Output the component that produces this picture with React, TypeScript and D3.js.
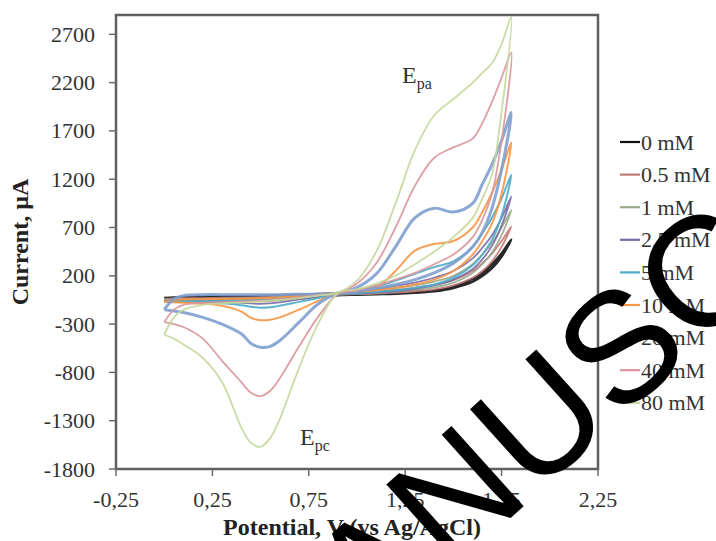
import React from "react";
import * as d3 from "d3";

const W = 716;
const H = 541;
const M = { left: 116, top: 15, right: 598, bottom: 469 };

// potential grids (V) for forward (anodic) and reverse (cathodic) scans
const V_FWD = [0, 0.05, 0.1, 0.2, 0.3, 0.4, 0.5, 0.6, 0.7, 0.8, 0.9, 1.0, 1.1, 1.2, 1.3, 1.4, 1.5, 1.6, 1.65, 1.7, 1.75, 1.8];
const V_REV = [1.8, 1.75, 1.7, 1.65, 1.6, 1.5, 1.4, 1.3, 1.2, 1.1, 1.0, 0.9, 0.8, 0.7, 0.6, 0.55, 0.5, 0.45, 0.4, 0.3, 0.2, 0.1, 0.05, 0];

const SERIES_NAMES = ["0 mM", "0.5 mM", "1 mM", "2.5 mM", "5 mM", "10 mM", "20 mM", "40 mM", "80 mM"];
const SERIES_COLORS = ["#111111", "#c47a78", "#9aa98a", "#7b6aa6", "#4bacc6", "#f79646", "#7f9fcf", "#d9959b", "#c4d79b"];
const SERIES_WIDTHS = [2.6, 1.8, 1.8, 1.8, 2, 2, 3, 1.8, 1.8];

// currents (µA), forward scan
const I_FWD_0 = [-30, -25, -20, -15, -12, -10, -8, -5, 2, 10, 18, 22, 27, 32, 38, 45, 90, 170, 230, 320, 430, 575];
const I_FWD_05 = [-40, -35, -32, -30, -28, -26, -22, -15, -5, 8, 22, 32, 42, 55, 75, 105, 155, 250, 330, 430, 560, 710];
const I_FWD_1 = [-45, -42, -40, -38, -36, -34, -30, -22, -10, 5, 22, 38, 55, 75, 100, 140, 200, 320, 420, 540, 700, 880];
const I_FWD_25 = [-60, -55, -52, -50, -48, -45, -40, -30, -15, 5, 22, 45, 65, 95, 130, 180, 250, 380, 490, 620, 800, 1020];
const I_FWD_5 = [-70, -62, -60, -58, -56, -52, -45, -35, -18, 5, 25, 50, 90, 150, 220, 290, 350, 500, 640, 800, 1000, 1245];
const I_FWD_10 = [-70, -50, -45, -42, -40, -38, -33, -25, -10, 8, 25, 40, 80, 250, 460, 530, 560, 700, 860, 1060, 1300, 1580];
const I_FWD_20 = [-150, -40, -5, 5, 5, 5, 5, 5, 8, 12, 20, 80, 220, 500, 800, 900, 860, 950, 1150, 1350, 1600, 1890];
const I_FWD_40 = [-280, -150, -100, -80, -72, -66, -58, -45, -25, 0, 20, 120, 330, 700, 1130, 1420, 1530, 1620, 1780, 2000, 2250, 2510];
const I_FWD_80 = [-410, -230, -150, -100, -85, -75, -65, -50, -30, -5, 25, 150, 450, 950, 1500, 1860, 2030, 2200, 2300, 2400, 2600, 2880];

// currents (µA), reverse scan
const I_REV_0 = [575, 400, 280, 200, 140, 75, 40, 25, 15, 10, 5, 0, -10, -20, -28, -30, -33, -34, -35, -35, -34, -33, -32, -30];
const I_REV_05 = [710, 500, 350, 250, 180, 100, 60, 40, 25, 15, 10, 5, -12, -28, -42, -46, -48, -48, -47, -45, -43, -42, -41, -40];
const I_REV_1 = [880, 620, 440, 320, 230, 130, 80, 55, 35, 20, 12, 5, -15, -35, -55, -62, -65, -63, -60, -55, -50, -48, -46, -45];
const I_REV_25 = [1020, 720, 510, 370, 270, 160, 100, 65, 40, 25, 15, 5, -20, -45, -75, -85, -90, -85, -80, -70, -62, -60, -60, -60];
const I_REV_5 = [1245, 820, 570, 420, 310, 180, 110, 75, 50, 35, 22, 8, -30, -70, -110, -125, -130, -120, -105, -85, -75, -72, -70, -70];
const I_REV_10 = [1580, 1050, 740, 560, 420, 250, 160, 110, 75, 50, 35, 15, -60, -150, -230, -255, -260, -235, -170, -110, -90, -80, -75, -70];
const I_REV_20 = [1890, 1300, 900, 650, 500, 330, 230, 160, 110, 70, 40, 15, -90, -280, -470, -530, -540, -500, -400, -300, -230, -180, -165, -150];
const I_REV_40 = [2510, 1600, 1050, 780, 600, 420, 320, 230, 160, 100, 50, 10, -220, -530, -860, -990, -1045, -1010, -900, -680, -450, -330, -300, -280];
const I_REV_80 = [2880, 1900, 1250, 1000, 800, 600, 450, 320, 200, 120, 60, 20, -290, -750, -1280, -1480, -1570, -1530, -1370, -900, -650, -510, -450, -410];

const FWD = [I_FWD_0, I_FWD_05, I_FWD_1, I_FWD_25, I_FWD_5, I_FWD_10, I_FWD_20, I_FWD_40, I_FWD_80];
const REV = [I_REV_0, I_REV_05, I_REV_1, I_REV_25, I_REV_5, I_REV_10, I_REV_20, I_REV_40, I_REV_80];

const X_TICKS = [-0.25, 0.25, 0.75, 1.25, 1.75, 2.25];
const X_TICK_LABELS = ["-0,25", "0,25", "0,75", "1,25", "1,75", "2,25"];
const Y_TICKS = [-1800, -1300, -800, -300, 200, 700, 1200, 1700, 2200, 2700];

const SERIF = "'Liberation Serif', 'Times New Roman', serif";

export default function App() {
  const x = d3.scaleLinear().domain([-0.25, 2.25]).range([M.left, M.right]);
  const y = d3.scaleLinear().domain([-1800, 2900]).range([M.bottom, M.top]);

  const line = d3
    .line<[number, number]>()
    .x((d) => x(d[0]))
    .y((d) => y(d[1]))
    .curve(d3.curveCatmullRom.alpha(0.5));

  const paths = SERIES_NAMES.map((name, i) => {
    const pts: [number, number][] = [];
    V_FWD.forEach((v, k) => pts.push([v, FWD[i][k]]));
    V_REV.forEach((v, k) => {
      if (k > 0) pts.push([v, REV[i][k]]);
    });
    return { name, d: line(pts) || "", color: SERIES_COLORS[i], w: SERIES_WIDTHS[i] };
  });

  const legendY0 = 142;
  const legendStep = 32.6;

  return (
    <svg
      width={W}
      height={H}
      style={{ position: "absolute", left: 0, top: 0, background: "#fff" }}
      fontFamily={SERIF}
    >
      <rect x={0} y={0} width={W} height={H} fill="#fff" />
      <g>
        {paths.map((p) => (
          <path key={p.name} d={p.d} fill="none" stroke={p.color} strokeWidth={p.w} strokeLinejoin="round" opacity={0.9} />
        ))}
      </g>
      {/* frame */}
      <rect
        x={M.left}
        y={M.top}
        width={M.right - M.left}
        height={M.bottom - M.top}
        fill="none"
        stroke="#5f5f5f"
        strokeWidth={2.5}
      />
      {/* y ticks */}
      {Y_TICKS.map((t) => (
        <g key={"y" + t}>
          <line x1={M.left - 7} x2={M.left} y1={y(t)} y2={y(t)} stroke="#6a6a6a" strokeWidth={1.5} />
          <text x={95} y={y(t) + 7.5} textAnchor="end" fontSize={22} fill="#333">
            {t}
          </text>
        </g>
      ))}
      {/* x ticks */}
      {X_TICKS.map((t, i) => (
        <g key={"x" + t}>
          <line x1={x(t)} x2={x(t)} y1={M.bottom} y2={M.bottom + 7} stroke="#6a6a6a" strokeWidth={1.5} />
          <text x={x(t)} y={507} textAnchor="middle" fontSize={22} fill="#333">
            {X_TICK_LABELS[i]}
          </text>
        </g>
      ))}
      {/* axis titles */}
      <text x={352} y={535} textAnchor="middle" fontSize={24} fontWeight="bold" fill="#222">
        Potential, V (vs Ag/AgCl)
      </text>
      <text
        transform={`translate(28,242) rotate(-90)`}
        textAnchor="middle"
        fontSize={24}
        fontWeight="bold"
        fill="#222"
      >
        Current, µA
      </text>
      {/* annotations */}
      <text x={402} y={83} fontSize={24} fill="#333">
        E<tspan fontSize={16} dy={6}>pa</tspan>
      </text>
      <text x={300} y={445} fontSize={24} fill="#333">
        E<tspan fontSize={16} dy={6}>pc</tspan>
      </text>
      {/* legend */}
      {SERIES_NAMES.map((n, i) => {
        const cy = legendY0 + i * legendStep;
        return (
          <g key={"lg" + n}>
            <line x1={620} x2={640} y1={cy} y2={cy} stroke={SERIES_COLORS[i]} strokeWidth={i === 6 ? 4 : 2.2} />
            <text x={641} y={cy + 7.5} fontSize={22} fill="#333">
              {n}
            </text>
          </g>
        );
      })}
      {/* watermark */}
      <text
        transform="translate(274,731) rotate(-42)"
        fontFamily="'Liberation Sans', Arial, sans-serif"
        fontSize={157}
        fill="#000"
      >
        MANUSCRIPT
      </text>
    </svg>
  );
}
